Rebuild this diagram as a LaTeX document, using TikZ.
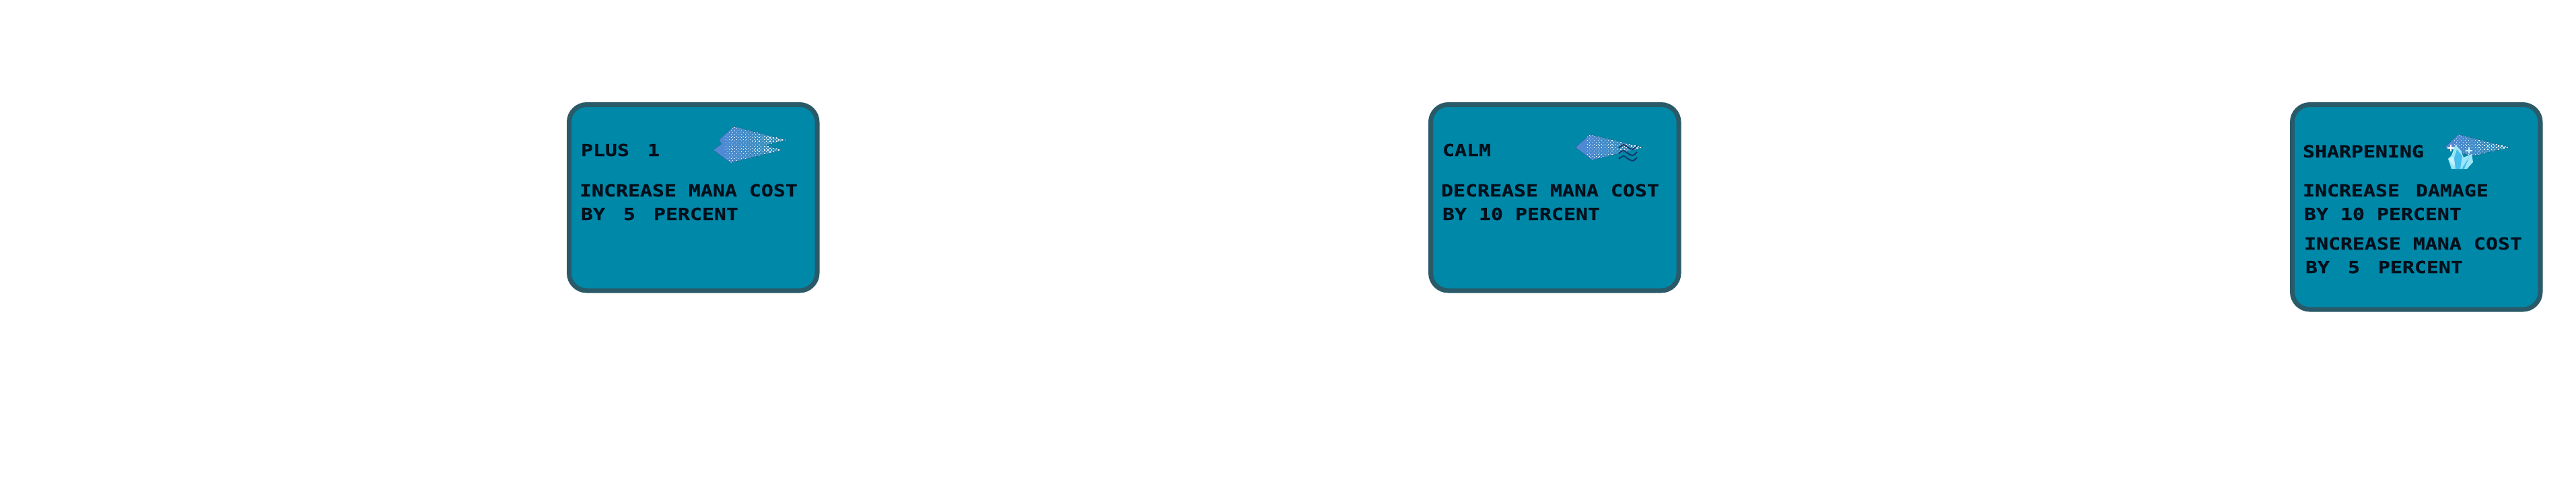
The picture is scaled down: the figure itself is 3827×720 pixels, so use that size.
\documentclass[tikz,border=0pt]{standalone}
\usepackage{fontspec}
\newfontfamily\pixfont[FakeStretch=1.21,FakeBold=0.5]{DejaVu Sans Mono}
\definecolor{cardfill}{HTML}{0088A8}
\definecolor{cardline}{HTML}{2A5A68}
\definecolor{inkdark}{HTML}{03101C}
\definecolor{gemblue}{HTML}{5488D6}
\definecolor{gemfade}{HTML}{2E94B8}
\definecolor{wavedark}{HTML}{0F3A6A}
\definecolor{crysA}{HTML}{9BE6F6}
\definecolor{crysB}{HTML}{45BDEE}
\definecolor{crysC}{HTML}{C5F2FA}
\tikzset{
  cardbox/.style={draw=cardline,fill=cardfill,line width=7pt,rounded corners=26pt,
    minimum width=368.5pt,anchor=north west,inner sep=0pt,outer sep=0pt},
  pixlabel/.style={anchor=base west,inner sep=0pt,outer sep=0pt,text=inkdark,
    font=\pixfont\bfseries\fontsize{24.7}{30}\selectfont},
  wave/.style={draw=wavedark,line width=2pt,line join=round}
}
% dithered fill: x-start, x-end, y-start, y-end
\newcommand{\ditherfill}[4]{%
  \pgfmathtruncatemacro{\nx}{(#2-#1)/2.6}%
  \pgfmathtruncatemacro{\ny}{(#4-#3)/2.6}%
  \foreach \i in {0,...,\nx}{%
    \foreach \j in {0,...,\ny}{%
      \pgfmathtruncatemacro{\chk}{mod(\i+\j,2)}%
      \ifnum\chk=0
        \pgfmathsetmacro{\siz}{0.5+1.45*\i/\nx}%
        \fill[white] ({#1+2.6*\i},{#3+2.6*\j}) rectangle ++(\siz,\siz);
      \fi
    }%
  }%
}
\begin{document}
\begin{tikzpicture}[x=1pt,y=-1pt]
\useasboundingbox (0,0) rectangle (3827,720);

% Card 1
\node[cardbox,minimum height=276.5pt] (cardA) at (845.5,155.5) {};
\begin{scope}
  \path[clip] (1072,214) -- (1068,208) -- (1090,188) -- (1168,208) -- (1138,216) -- (1162,223) -- (1085,242) -- (1060,223) -- cycle;
  \fill[left color=gemblue,right color=gemfade] (1060,186) rectangle (1168,244);
  \ditherfill{1078}{1170}{186}{244}
\end{scope}
\node[pixlabel] (a1) at (863,232) {PLUS\hspace{27pt}1};
\node[pixlabel] (a2) at (861,292) {INCREASE MANA COST};
\node[pixlabel] (a3) at (863,327) {BY\hspace{9pt} 5\hspace{9pt} PERCENT};

% Card 2
\node[cardbox,minimum height=276.5pt] (cardB) at (2125.5,155.5) {};
\begin{scope}
  \path[clip] (2341,219) -- (2362,200) -- (2442,219) -- (2365,238) -- cycle;
  \fill[left color=gemblue,right color=gemfade] (2341,198) rectangle (2442,240);
  \ditherfill{2358}{2444}{198}{240}
\end{scope}
\draw[wave] plot[smooth] coordinates {(2405,220) (2412,215) (2420,220) (2426,222) (2432,217)};
\draw[wave] plot[smooth] coordinates {(2405,228) (2412,224) (2420,229) (2426,231) (2432,226)};
\draw[wave] plot[smooth] coordinates {(2405,236) (2412,232) (2420,237) (2426,239) (2432,234)};
\node[pixlabel] (b1) at (2143,232) {CALM};
\node[pixlabel] (b2) at (2141,292) {DECREASE MANA COST};
\node[pixlabel] (b3) at (2143,327) {BY 10 PERCENT};

% Card 3
\node[cardbox,minimum height=304.5pt] (cardC) at (3405.5,155.5) {};
\begin{scope}
  \path[clip] (3632,219) -- (3652,200) -- (3729,219) -- (3672,232) -- cycle;
  \fill[left color=gemblue,right color=gemfade] (3632,198) rectangle (3729,234);
  \ditherfill{3646}{3731}{198}{234}
\end{scope}
\fill[crysA] (3648,215) -- (3656,224) -- (3660,234) -- (3672,229) -- (3674,241) -- (3665,251) -- (3642,251) -- (3637,236) -- (3642,231) -- cycle;
\fill[crysB] (3650,222) -- (3658,232) -- (3655,251) -- (3648,251) -- (3646,235) -- cycle;
\fill[crysB] (3668,234) -- (3661,251) -- (3657,251) -- cycle;
\fill[crysC] (3637,236) -- (3645,233) -- (3647,246) -- (3642,243) -- cycle;
\fill[white] (3640,215) rectangle (3642,225) (3636,219) rectangle (3646,221);
\fill[crysC] (3667,219) rectangle (3669,228) (3663,223) rectangle (3673,225);
\node[pixlabel] (c1) at (3421,234) {SHARPENING};
\node[pixlabel] (c2) at (3421,292) {INCREASE\hspace{6pt} DAMAGE};
\node[pixlabel] (c3) at (3423,327) {BY 10 PERCENT};
\node[pixlabel] (c4) at (3423,371) {INCREASE MANA COST};
\node[pixlabel] (c5) at (3425,406) {BY\hspace{9pt} 5\hspace{9pt} PERCENT};
\end{tikzpicture}
\end{document}
